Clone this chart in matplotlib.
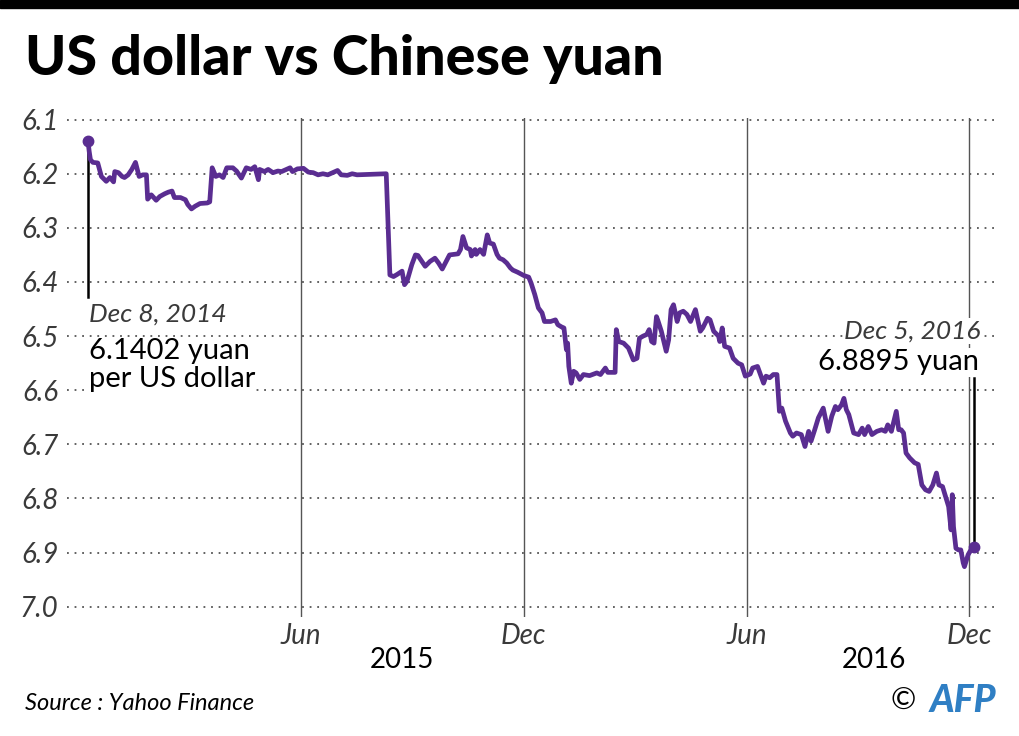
import numpy as np
import matplotlib
matplotlib.use("Agg")
import matplotlib.pyplot as plt
import matplotlib.dates as mdates
import matplotlib.transforms as mtransforms
from matplotlib.patches import Rectangle

# USD/CNY rate (days after Dec 8, 2014)
start_date = np.datetime64("2014-12-08")
day_offset = [
    0, 1, 2, 4, 8, 11, 15, 18, 21, 22, 25, 28, 30, 33, 36, 39, 42, 45, 48, 49,
    52, 56, 59, 63, 66, 69, 71, 76, 80, 82, 85, 88, 92, 98, 100, 102, 105, 108, 111, 114,
    119, 122, 126, 130, 134, 137, 140, 141, 145, 148, 152, 156, 159, 163, 166, 168, 172, 177, 181, 185,
    189, 193, 197, 201, 205, 208, 213, 217, 221, 245, 248, 251, 254, 258, 260, 262, 266, 269, 271, 277,
    281, 285, 288, 291, 297, 304, 306, 308, 311, 314, 315, 318, 319, 322, 325, 328, 330, 333, 336, 338,
    341, 344, 347, 349, 353, 358, 362, 364, 367, 370, 373, 375, 380, 384, 386, 389, 391, 393, 394, 395,
    397, 399, 401, 404, 407, 412, 418, 421, 425, 427, 433, 434, 436, 440, 444, 448, 451, 453, 456, 459,
    461, 463, 465, 467, 468, 471, 475, 477, 479, 481, 484, 486, 489, 492, 495, 499, 503, 505, 509, 511,
    514, 518, 519, 521, 523, 527, 530, 534, 537, 540, 544, 546, 550, 555, 557, 560, 563, 566, 568, 570,
    573, 577, 579, 582, 586, 589, 592, 594, 597, 600, 604, 608, 611, 614, 616, 619, 621, 623, 625, 629,
    633, 636, 638, 641, 644, 648, 652, 655, 657, 660, 664, 666, 668, 670, 672, 675, 679, 682, 685, 688,
    691, 694, 697, 699, 702, 704, 707, 709, 710, 711, 713, 715, 717, 719, 720, 723, 725, 728,
]
rate = [
    6.1402, 6.159, 6.174, 6.179, 6.180, 6.205, 6.214, 6.207, 6.215, 6.196, 6.198, 6.205, 6.207, 6.202, 6.192, 6.179, 6.205, 6.202, 6.202, 6.247,
    6.239, 6.249, 6.242, 6.237, 6.234, 6.232, 6.244, 6.244, 6.248, 6.257, 6.265, 6.260, 6.255, 6.254, 6.252, 6.189, 6.205, 6.202, 6.207, 6.189,
    6.189, 6.195, 6.208, 6.189, 6.192, 6.187, 6.211, 6.192, 6.196, 6.192, 6.198, 6.195, 6.196, 6.192, 6.189, 6.196, 6.191, 6.190, 6.197, 6.198,
    6.202, 6.200, 6.202, 6.198, 6.194, 6.202, 6.203, 6.200, 6.202, 6.200, 6.387, 6.390, 6.386, 6.380, 6.405, 6.399, 6.368, 6.350, 6.351, 6.371,
    6.362, 6.356, 6.365, 6.376, 6.350, 6.348, 6.340, 6.316, 6.337, 6.340, 6.352, 6.340, 6.349, 6.340, 6.349, 6.313, 6.328, 6.330, 6.349, 6.356,
    6.359, 6.365, 6.374, 6.378, 6.382, 6.388, 6.391, 6.402, 6.423, 6.448, 6.457, 6.473, 6.473, 6.470, 6.479, 6.483, 6.485, 6.525, 6.513, 6.556,
    6.587, 6.565, 6.568, 6.580, 6.571, 6.573, 6.568, 6.571, 6.559, 6.567, 6.567, 6.488, 6.510, 6.513, 6.522, 6.544, 6.541, 6.504, 6.500, 6.497,
    6.488, 6.510, 6.513, 6.464, 6.470, 6.491, 6.528, 6.507, 6.451, 6.442, 6.473, 6.457, 6.454, 6.460, 6.473, 6.451, 6.491, 6.485, 6.467, 6.470,
    6.491, 6.500, 6.510, 6.485, 6.519, 6.522, 6.541, 6.550, 6.553, 6.574, 6.570, 6.559, 6.556, 6.587, 6.574, 6.577, 6.571, 6.571, 6.639, 6.633,
    6.657, 6.679, 6.685, 6.679, 6.682, 6.704, 6.676, 6.694, 6.673, 6.651, 6.633, 6.676, 6.648, 6.630, 6.636, 6.627, 6.615, 6.636, 6.645, 6.679,
    6.682, 6.670, 6.682, 6.667, 6.682, 6.676, 6.673, 6.676, 6.664, 6.676, 6.639, 6.673, 6.673, 6.679, 6.716, 6.725, 6.734, 6.737, 6.775, 6.784,
    6.787, 6.775, 6.753, 6.775, 6.778, 6.793, 6.815, 6.858, 6.793, 6.852, 6.892, 6.895, 6.895, 6.919, 6.926, 6.904, 6.896, 6.8895,
]

y_ticks = [6.1, 6.2, 6.3, 6.4, 6.5, 6.6, 6.7, 6.8, 6.9, 7.0]
month_ticks = ["2015-06-01", "2015-12-01", "2016-06-01", "2016-12-01"]
month_labels = ["Jun", "Dec", "Jun", "Dec"]
year_labels = ["2015", "2016"]
year_dates = ["2015-08-23", "2016-09-14"]
first_note = ["Dec 8, 2014", "6.1402 yuan", "per US dollar"]
last_note = ["Dec 5, 2016", "6.8895 yuan"]

PURPLE = "#5a2d91"
GREY = "#3a3a3a"
FONT = "Lato"

dates = start_date + np.array(day_offset)
x = mdates.date2num(dates.astype("datetime64[D]").astype(object))

fig = plt.figure(figsize=(10.2, 7.36), dpi=100)
fig.patches.append(Rectangle((0, 1 - 8 / 736), 1, 8 / 736, transform=fig.transFigure,
                             color="black", zorder=0))
fig.text(25 / 1020, 1 - 75 / 736, "US dollar vs Chinese yuan", fontsize=40,
         fontweight="black", family=FONT, va="baseline", ha="left")

ax = fig.add_axes([67 / 1020, 1 - 617 / 736, 928 / 1020, 499 / 736])
for s in ax.spines.values():
    s.set_visible(False)

x0 = x[0]
ax.set_xlim(x0 - 17.25, x0 + 745.1)
ax.set_ylim(7.019, 6.097)

for yv in y_ticks:
    ax.axhline(yv, color="#555555", lw=1.3, ls=(0, (1, 3.2)), zorder=1)
mt = mdates.date2num([np.datetime64(d).astype(object) for d in month_ticks])
for m in mt:
    ax.axvline(m, color="#555555", lw=1, zorder=1)

ax.set_yticks(y_ticks)
ax.set_yticklabels([f"{v:.1f}" for v in y_ticks])
ax.set_xticks(mt)
ax.set_xticklabels(month_labels)
ax.tick_params(length=0)
ax.tick_params(axis="y", pad=6)
ax.tick_params(axis="x", pad=4)
for lab in ax.get_yticklabels() + ax.get_xticklabels():
    lab.set_fontfamily(FONT)
    lab.set_fontstyle("italic")
    lab.set_fontweight("normal")
    lab.set_fontsize(20)
    lab.set_color(GREY)

trans = mtransforms.blended_transform_factory(ax.transData, ax.transAxes)
for lbl, d in zip(year_labels, year_dates):
    ax.text(mdates.date2num(np.datetime64(d).astype(object)), -0.086, lbl, transform=trans,
            ha="center", va="center", fontsize=20, family=FONT, color="black")

ax.plot(x, rate, color=PURPLE, lw=3.4, solid_joinstyle="round", zorder=3)
ax.plot([x[0], x[-1]], [rate[0], rate[-1]], "o", color=PURPLE, ms=7.5, zorder=4)

# annotation for first point
ax.plot([x[0], x[0]], [rate[0], 6.427], color="black", lw=1.8, zorder=2)
bb = dict(facecolor="white", edgecolor="none", pad=1)
ax.text(x0 + 0.5, 6.460, first_note[0], fontsize=19, family=FONT, style="italic",
        color=GREY, va="center", ha="left", bbox=bb, zorder=5)
ax.text(x0 + 0.5, 6.528, first_note[1], fontsize=21, family=FONT, color="black",
        va="center", ha="left", bbox=bb, zorder=5)
ax.text(x0 + 0.5, 6.579, first_note[2], fontsize=21, family=FONT, color="black",
        va="center", ha="left", bbox=bb, zorder=5)

# annotation for last point
ax.plot([x[-1], x[-1]], [rate[-1], 6.578], color="black", lw=1.8, zorder=2)
ax.text(x[-1] + 5.5, 6.490, last_note[0], fontsize=19, family=FONT, style="italic",
        color=GREY, va="center", ha="right", bbox=bb, zorder=5)
ax.text(x[-1] + 4, 6.548, last_note[1], fontsize=21, family=FONT, color="black",
        va="center", ha="right", bbox=bb, zorder=5)

fig.text(25 / 1020, 1 - 703 / 736, "Source : Yahoo Finance", fontsize=17, family=FONT,
         style="italic", color="black", va="center", ha="left")
fig.text(903 / 1020, 1 - 701 / 736, "\u00a9", fontsize=22, family=FONT, color="black",
         va="center", ha="center")
fig.text(996 / 1020, 1 - 700 / 736, "AFP", fontsize=27, family=FONT, style="italic",
         fontweight="black", color="#2f7fc4", va="center", ha="right")

fig.savefig("out.png", dpi=100)
